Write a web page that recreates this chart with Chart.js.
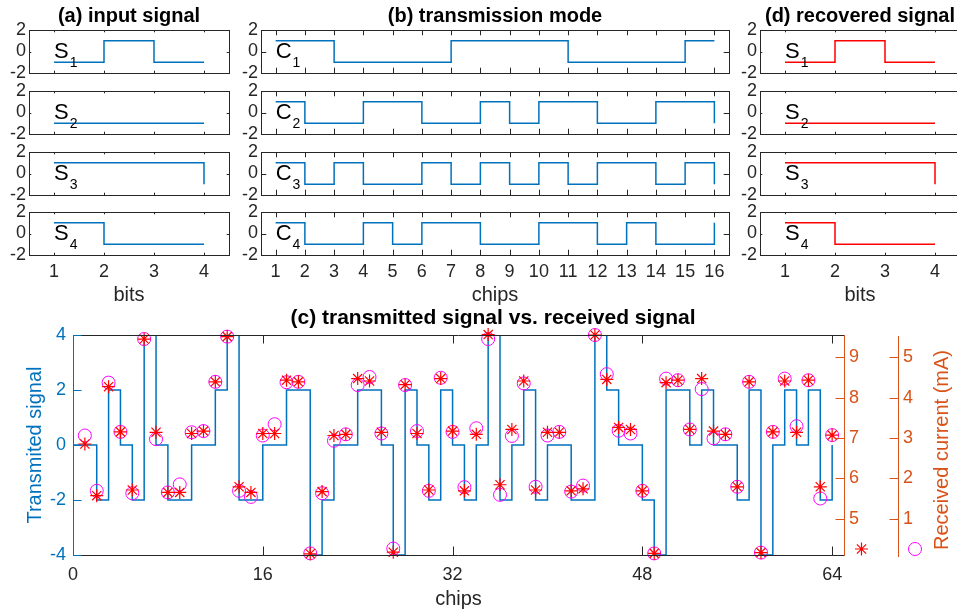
<!DOCTYPE html>
<html>
<head>
<meta charset="utf-8">
<script src="https://cdn.jsdelivr.net/npm/chart.js@4.4.1/dist/chart.umd.min.js"></script>
<style>
  html, body { margin: 0; padding: 0; background: #fff; }
  #fig { position: relative; width: 957px; height: 614px; overflow: hidden; background: #fff; }
  #fig canvas { position: absolute; }
</style>
</head>
<body>
<div id="fig"></div>
<script>
// ---------- data ----------
const bitIdx = [1, 2, 3, 4];
const bitTicks = [1, 2, 3, 4];
const chipIdx = [1, 2, 3, 4, 5, 6, 7, 8, 9, 10, 11, 12, 13, 14, 15, 16];
const chipTicks = [1, 2, 3, 4, 5, 6, 7, 8, 9, 10, 11, 12, 13, 14, 15, 16];
const levelTicks = [-2, 0, 2];

// (a) input bits
const S1 = [-1, 1, -1, -1];
const S2 = [-1, -1, -1, -1];
const S3 = [1, 1, 1, -1];
const S4 = [1, -1, -1, -1];

// (b) spreading codes
const C1 = [1, 1, -1, -1, -1, -1, 1, 1, 1, 1, -1, -1, -1, -1, 1, 1];
const C2 = [1, -1, -1, 1, 1, -1, -1, 1, -1, 1, 1, -1, -1, 1, 1, -1];
const C3 = [1, -1, 1, -1, -1, 1, -1, 1, -1, 1, -1, 1, 1, -1, 1, -1];
const C4 = [1, -1, -1, 1, -1, 1, 1, -1, -1, 1, 1, -1, 1, -1, -1, 1];

// (d) recovered bits
const R1 = [-1, 1, -1, -1];
const R2 = [-1, -1, -1, -1];
const R3 = [1, 1, 1, -1];
const R4 = [1, -1, -1, -1];

// (c) transmitted signal, chips 0..64
const txChips = Array.from({ length: 65 }, (_, i) => i);
const transmitted = [0,
  0, -2, 2, 0, -2, 4, 0, -2, -2, 0, 0, 2, 4, -2, -2, 0,
  0, 2, 2, -4, -2, 0, 0, 2, 2, 0, -4, 2, 0, -2, 2, 0,
  -2, 0, 4, -2, 0, 2, -2, 0, 0, -2, -2, 4, 2, 0, 0, -2,
  -4, 2, 2, 0, 2, 0, 0, -2, 2, -4, 0, 2, 0, 2, -2, 0];

// received current at chips 1..64 (asterisks: inner right axis, circles: outer right axis)
const rxChips = txChips.slice(1);
const rxStar = [
  6.85, 5.57, 8.27, 7.15, 5.71, 9.45, 7.14, 5.65, 5.65, 7.11, 7.17, 8.39, 9.51, 5.79, 5.65, 7.11,
  7.11, 8.43, 8.39, 4.13, 5.67, 7.06, 7.09, 8.47, 8.41, 7.14, 4.17, 8.32, 7.11, 5.71, 8.47, 7.17,
  5.69, 7.09, 9.56, 5.84, 7.21, 8.41, 5.71, 7.14, 7.14, 5.69, 5.74, 9.55, 8.45, 7.26, 7.21, 5.69,
  4.14, 8.37, 8.43, 7.21, 8.47, 7.17, 7.09, 5.79, 8.39, 4.16, 7.15, 8.41, 7.14, 8.43, 5.79, 7.07];
const rxCircle = [
  3.06, 1.69, 4.37, 3.15, 1.63, 5.45, 2.97, 1.65, 1.85, 3.14, 3.17, 4.39, 5.51, 1.69, 1.54, 3.06,
  3.34, 4.38, 4.39, 0.14, 1.63, 2.93, 3.09, 4.31, 4.51, 3.11, 0.26, 4.31, 3.17, 1.69, 4.49, 3.15,
  1.78, 3.24, 5.45, 1.59, 3.05, 4.35, 1.79, 3.06, 3.15, 1.67, 1.82, 5.55, 4.58, 3.18, 3.11, 1.69,
  0.14, 4.47, 4.43, 3.21, 4.21, 2.99, 3.09, 1.79, 4.39, 0.16, 3.15, 4.47, 3.29, 4.43, 1.50, 3.07];

const chip64Ticks = [0, 16, 32, 48, 64];
const signalTicks = [-4, -2, 0, 2, 4];
const starTicks = [5, 6, 7, 8, 9];
const circleTicks = [1, 2, 3, 4, 5];

// ---------- styling ----------
const FONT = '"Liberation Sans", Arial, Helvetica, sans-serif';
const DARK = '#262626', BLUE = '#0072BD', ORANGE = '#D95319', RED = '#FF0000', MAGENTA = '#FF00FF';

const fig = document.getElementById('fig');
function addCanvas(left, top, w, h) {
  const c = document.createElement('canvas');
  c.width = w; c.height = h;
  c.style.left = left + 'px'; c.style.top = top + 'px';
  c.style.width = w + 'px'; c.style.height = h + 'px';
  fig.appendChild(c);
  return c;
}
const px = v => Math.round(v) + 0.5;
const setTicks = list => s => { s.ticks = list.map(v => ({ value: v })); };

// box, inward ticks and the S_k / C_k tag of one small panel
const framePlugin = {
  id: 'frame',
  afterDatasetsDraw(chart, args, o) {
    const { ctx, chartArea: a, scales: { x, y } } = chart;
    const L = o.len;
    ctx.save();
    ctx.lineWidth = 1;
    ctx.strokeStyle = DARK;
    ctx.beginPath();
    x.ticks.forEach(t => {
      const X = px(x.getPixelForValue(t.value));
      ctx.moveTo(X, a.bottom); ctx.lineTo(X, a.bottom - L);
      ctx.moveTo(X, a.top); ctx.lineTo(X, a.top + L);
    });
    y.ticks.forEach(t => {
      const Y = px(y.getPixelForValue(t.value));
      ctx.moveTo(a.left, Y); ctx.lineTo(a.left + L, Y);
      ctx.moveTo(a.right, Y); ctx.lineTo(a.right - L, Y);
    });
    ctx.stroke();
    ctx.strokeRect(px(a.left), px(a.top), Math.round(a.right - a.left), Math.round(a.bottom - a.top));

    const x0 = x.getPixelForValue(1), y0 = y.getPixelForValue(0);
    ctx.fillStyle = '#000';
    ctx.textAlign = 'left';
    ctx.textBaseline = 'alphabetic';
    ctx.font = '22px ' + FONT;
    ctx.fillText(o.tag, x0, y0 + 6);
    const w = ctx.measureText(o.tag).width;
    ctx.font = '14px ' + FONT;
    ctx.fillText(o.sub, x0 + w + 1, y0 + 15.5);
    ctx.restore();
  }
};

const columns = [
  { l: 29, w: 200, min: 0.5, max: 4.5, xs: bitIdx, xTicks: bitTicks, len: 2.3,
    title: '(a) input signal', xTitle: 'bits', color: BLUE, tag: 'S', series: [S1, S2, S3, S4] },
  { l: 261, w: 468, min: 0.5, max: 16.5, xs: chipIdx, xTicks: chipTicks, len: 5.3,
    title: '(b) transmission mode', xTitle: 'chips', color: BLUE, tag: 'C', series: [C1, C2, C3, C4] },
  { l: 760, w: 200, min: 0.5, max: 4.5, xs: bitIdx, xTicks: bitTicks, len: 2.3,
    title: '(d) recovered signal', xTitle: 'bits', color: RED, tag: 'S', series: [R1, R2, R3, R4] }
];
const rowTops = [30, 91, 152, 212];
const rowH = 43;

function smallPlot(col, r) {
  const first = r === 0, last = r === 3;
  const padL = 45, padR = 6;
  const padT = first ? 30 : 14;
  const axisH = last ? 52 : 0;
  const padB = last ? 0 : 14;
  const cv = addCanvas(col.l - padL, rowTops[r] - padT, padL + col.w + padR, padT + rowH + axisH + padB);
  const ys = col.series[r];
  new Chart(cv, {
    type: 'line',
    data: {
      datasets: [{
        data: col.xs.map((x, i) => ({ x, y: ys[i] })),
        stepped: true, borderColor: col.color, borderWidth: 1.5, pointRadius: 0, fill: false
      }]
    },
    options: {
      responsive: false, animation: false, events: [],
      layout: { padding: { top: first ? 0 : padT, right: padR, bottom: padB, left: 0 } },
      plugins: {
        legend: { display: false }, tooltip: { enabled: false },
        title: {
          display: first, text: col.title, fullSize: false, color: '#000',
          font: { family: FONT, size: 20, weight: 'bold' }, padding: { top: 4, bottom: 2 }
        },
        frame: { len: col.len, tag: col.tag, sub: String(r + 1) }
      },
      scales: {
        x: {
          type: 'linear', min: col.min, max: col.max, afterBuildTicks: setTicks(col.xTicks),
          grid: { display: false, drawTicks: false }, border: { display: false },
          ticks: { display: last, autoSkip: false, maxRotation: 0, padding: 6, color: DARK, font: { family: FONT, size: 18 } },
          title: { display: last, text: col.xTitle, color: DARK, font: { family: FONT, size: 20 }, padding: 0 },
          afterFit: s => { s.height = axisH; }
        },
        y: {
          type: 'linear', min: -2, max: 2, afterBuildTicks: setTicks(levelTicks),
          grid: { display: false, drawTicks: false }, border: { display: false },
          ticks: { autoSkip: false, padding: 3, color: DARK, font: { family: FONT, size: 18 } },
          afterFit: s => { s.width = padL; }
        }
      }
    },
    plugins: [framePlugin]
  });
}
columns.forEach(col => [0, 1, 2, 3].forEach(r => smallPlot(col, r)));

// ---------- (c) transmitted vs received ----------
const dualPlugin = {
  id: 'dual',
  afterDatasetsDraw(chart) {
    const { ctx, chartArea: a, scales: { x, y, y2, y3 } } = chart;
    const L = 8.5;
    ctx.save();
    ctx.lineWidth = 1;

    ctx.strokeStyle = DARK;
    ctx.beginPath();
    ctx.moveTo(a.left, px(a.top)); ctx.lineTo(a.right, px(a.top));
    ctx.moveTo(a.left, px(a.bottom)); ctx.lineTo(a.right, px(a.bottom));
    x.ticks.forEach(t => {
      const X = px(x.getPixelForValue(t.value));
      ctx.moveTo(X, a.bottom); ctx.lineTo(X, a.bottom - L);
      ctx.moveTo(X, a.top); ctx.lineTo(X, a.top + L);
    });
    ctx.stroke();

    ctx.strokeStyle = BLUE;
    ctx.beginPath();
    ctx.moveTo(px(a.left), a.top); ctx.lineTo(px(a.left), a.bottom + 1);
    y.ticks.forEach(t => {
      const Y = px(y.getPixelForValue(t.value));
      ctx.moveTo(a.left, Y); ctx.lineTo(a.left + L, Y);
    });
    ctx.stroke();

    ctx.strokeStyle = ORANGE;
    ctx.beginPath();
    ctx.moveTo(px(a.right), a.top); ctx.lineTo(px(a.right), a.bottom + 1);
    y2.ticks.forEach(t => {
      const Y = px(y2.getPixelForValue(t.value));
      ctx.moveTo(a.right, Y); ctx.lineTo(a.right - L, Y);
    });
    ctx.moveTo(px(y3.left), a.top + 1); ctx.lineTo(px(y3.left), a.bottom + 2);
    y3.ticks.forEach(t => {
      const Y = px(y3.getPixelForValue(t.value));
      ctx.moveTo(y3.left, Y); ctx.lineTo(y3.left - L, Y);
    });
    ctx.stroke();

    // marker keys under the two right axes
    const sx = y2.left + 17.5, sy = a.bottom - 6, r = 6.5;
    ctx.strokeStyle = RED;
    ctx.lineWidth = 1.2;
    ctx.beginPath();
    for (let k = 0; k < 4; k++) {
      const ang = k * Math.PI / 4;
      ctx.moveTo(sx - r * Math.cos(ang), sy - r * Math.sin(ang));
      ctx.lineTo(sx + r * Math.cos(ang), sy + r * Math.sin(ang));
    }
    ctx.stroke();
    ctx.strokeStyle = MAGENTA;
    ctx.lineWidth = 1;
    ctx.beginPath();
    ctx.arc(y3.left + 17, a.bottom - 6, r, 0, Math.PI * 2);
    ctx.stroke();

    // outer right-axis label, reading upward
    ctx.save();
    ctx.translate(y3.right - 15, (a.top + a.bottom) / 2 + 5);
    ctx.rotate(-Math.PI / 2);
    ctx.fillStyle = ORANGE;
    ctx.font = '20px ' + FONT;
    ctx.textAlign = 'center';
    ctx.textBaseline = 'middle';
    ctx.fillText('Received current (mA)', 0, 0);
    ctx.restore();

    ctx.fillStyle = '#000';
    ctx.font = 'bold 21px ' + FONT;
    ctx.textAlign = 'center';
    ctx.textBaseline = 'alphabetic';
    ctx.fillText('(c) transmitted signal vs. received signal', a.left + 420, a.top - 11);
    ctx.restore();
  }
};

const bottomCanvas = addCanvas(0, 300, 957, 314);
new Chart(bottomCanvas, {
  type: 'line',
  data: {
    datasets: [
      {
        label: 'received (asterisk)', yAxisID: 'y2', order: 1,
        data: rxChips.map((x, i) => ({ x, y: rxStar[i] })),
        showLine: false, pointStyle: 'star', pointRadius: 6.5, pointBorderWidth: 1.2,
        pointBorderColor: RED, pointBackgroundColor: RED, clip: false
      },
      {
        label: 'received (circle)', yAxisID: 'y3', order: 2,
        data: rxChips.map((x, i) => ({ x, y: rxCircle[i] })),
        showLine: false, pointStyle: 'circle', pointRadius: 6.5, pointBorderWidth: 1,
        pointBorderColor: MAGENTA, pointBackgroundColor: 'rgba(0,0,0,0)', clip: false
      },
      {
        label: 'transmitted', yAxisID: 'y', order: 3,
        data: txChips.map((x, i) => ({ x, y: transmitted[i] })),
        stepped: true, borderColor: BLUE, borderWidth: 1.5, pointRadius: 0, fill: false
      }
    ]
  },
  options: {
    responsive: false, animation: false, events: [],
    layout: { padding: { top: 35, right: 0, bottom: 0, left: 0 } },
    plugins: { legend: { display: false }, tooltip: { enabled: false } },
    scales: {
      x: {
        type: 'linear', min: 0, max: 65, afterBuildTicks: setTicks(chip64Ticks),
        grid: { display: false, drawTicks: false }, border: { display: false },
        ticks: { autoSkip: false, maxRotation: 0, padding: 9, color: DARK, font: { family: FONT, size: 18 } },
        title: { display: true, text: 'chips', color: DARK, font: { family: FONT, size: 20 }, padding: { top: 0, bottom: 3 } },
        afterFit: s => { s.height = 59; }
      },
      y: {
        type: 'linear', position: 'left', min: -4, max: 4, afterBuildTicks: setTicks(signalTicks),
        grid: { display: false, drawTicks: false }, border: { display: false },
        ticks: { autoSkip: false, padding: 7, color: BLUE, font: { family: FONT, size: 18 } },
        title: { display: true, text: 'Transmited signal', color: BLUE, font: { family: FONT, size: 20 }, padding: { top: 23, bottom: 0 } },
        afterFit: s => { s.width = 73; }
      },
      y2: {
        type: 'linear', position: 'right', weight: 0, min: 4.1, max: 9.55, afterBuildTicks: setTicks(starTicks),
        grid: { display: false, drawTicks: false }, border: { display: false },
        ticks: { autoSkip: false, padding: 5, color: ORANGE, font: { family: FONT, size: 18 } },
        afterFit: s => { s.width = 54; }
      },
      y3: {
        type: 'linear', position: 'right', weight: 1, min: 0.1, max: 5.55, afterBuildTicks: setTicks(circleTicks),
        grid: { display: false, drawTicks: false }, border: { display: false },
        ticks: { autoSkip: false, padding: 5, color: ORANGE, font: { family: FONT, size: 18 } },
        afterFit: s => { s.width = 59; }
      }
    }
  },
  plugins: [dualPlugin]
});
</script>
</body>
</html>
